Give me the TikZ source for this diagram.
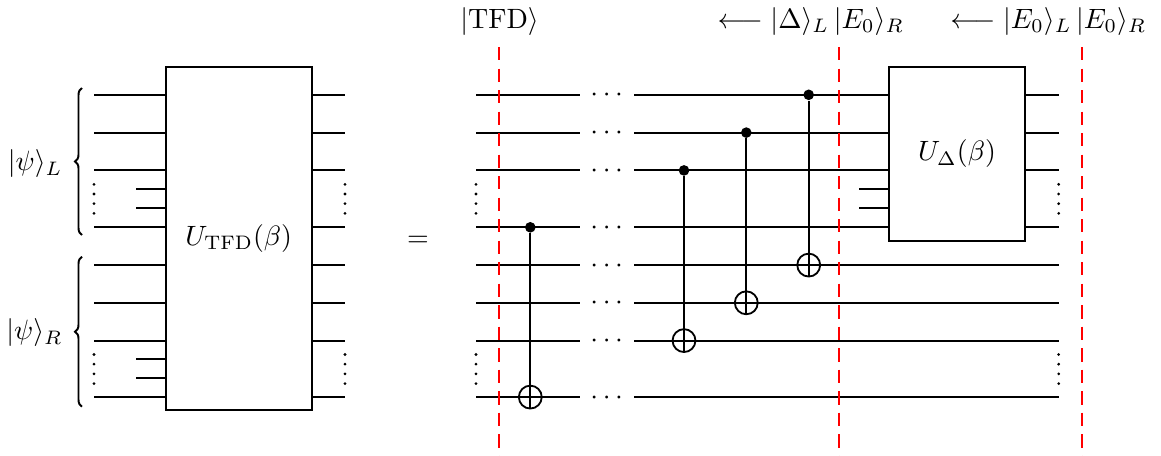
\documentclass[tikz,border=0pt]{standalone}
\usetikzlibrary{decorations.pathreplacing}
\begin{document}
\begin{tikzpicture}[x=0.358pt, y=-0.358pt,
  wire/.style={line width=0.65pt},
  gatebox/.style={draw, line width=0.75pt, inner sep=0pt},
  ctrl/.style={circle, fill, inner sep=0pt, minimum size=3.8pt},
  targ/.style={circle, draw, line width=0.65pt, inner sep=0pt, minimum size=8.2pt},
  slice/.style={red, line width=0.7pt, dash pattern=on 4.8pt off 2.9pt},
  lbl/.style={anchor=base, inner sep=0pt}]
\useasboundingbox (0,0) rectangle (1161,456);

% left hand side
\node[gatebox, minimum width=52.3pt, minimum height=122.7pt] (Utfd) at (238.7,238.7) {$U_{\mathrm{TFD}}(\beta)$};
\draw[wire] (94.3,94.8) -- (Utfd.west |- 0,94.8);
\draw[wire] (94.3,132.6) -- (Utfd.west |- 0,132.6);
\draw[wire] (94.3,170.4) -- (Utfd.west |- 0,170.4);
\draw[wire] (136,189.3) -- (Utfd.west |- 0,189.3);
\draw[wire] (136,208.3) -- (Utfd.west |- 0,208.3);
\draw[wire] (94.3,227.3) -- (Utfd.west |- 0,227.3);
\draw[wire] (94.3,265.1) -- (Utfd.west |- 0,265.1);
\draw[wire] (94.3,302.8) -- (Utfd.west |- 0,302.8);
\draw[wire] (94.3,340.6) -- (Utfd.west |- 0,340.6);
\draw[wire] (136,359.3) -- (Utfd.west |- 0,359.3);
\draw[wire] (136,378.4) -- (Utfd.west |- 0,378.4);
\draw[wire] (94.3,397.1) -- (Utfd.west |- 0,397.1);
\draw[wire] (Utfd.east |- 0,94.8) -- (345,94.8);
\draw[wire] (Utfd.east |- 0,132.6) -- (345,132.6);
\draw[wire] (Utfd.east |- 0,170.4) -- (345,170.4);
\draw[wire] (Utfd.east |- 0,227.3) -- (345,227.3);
\draw[wire] (Utfd.east |- 0,265.1) -- (345,265.1);
\draw[wire] (Utfd.east |- 0,302.8) -- (345,302.8);
\draw[wire] (Utfd.east |- 0,340.6) -- (345,340.6);
\draw[wire] (Utfd.east |- 0,397.1) -- (345,397.1);
\draw[line width=0.7pt, decorate, decoration={brace, amplitude=2.5pt}] (82,235) -- (82,88);
\draw[line width=0.7pt, decorate, decoration={brace, amplitude=2.5pt}] (82,406.7) -- (82,256.7);
\node[anchor=east, inner sep=0pt] (psiL) at (63,164) {$|\psi\rangle_L$};
\node[anchor=east, inner sep=0pt] (psiR) at (63,333) {$|\psi\rangle_R$};
\foreach \x in {94,345} \foreach \y in {184.3,194.0,203.7,213.4,354.5,364.2,373.9,383.6}
  \fill (\x,\y) circle (0.55pt);

\node[lbl] (eq) at (418,246) {$=$};

% right hand side
\node[gatebox, minimum width=48.9pt, minimum height=62.1pt] (Udelta) at (957,154) {$U_{\Delta}(\beta)$};
\draw[wire] (476,94.8) -- (580,94.8);
\draw[wire] (476,132.6) -- (580,132.6);
\draw[wire] (476,170.4) -- (580,170.4);
\draw[wire] (476,227.3) -- (580,227.3);
\draw[wire] (476,265.1) -- (580,265.1);
\draw[wire] (476,302.8) -- (580,302.8);
\draw[wire] (476,340.6) -- (580,340.6);
\draw[wire] (476,397.1) -- (580,397.1);
\node[lbl] (d0) at (606.7,101.8) {$\cdots$};
\node[lbl] (d1) at (606.7,139.6) {$\cdots$};
\node[lbl] (d2) at (606.7,177.4) {$\cdots$};
\node[lbl] (d3) at (606.7,234.3) {$\cdots$};
\node[lbl] (d4) at (606.7,272.1) {$\cdots$};
\node[lbl] (d5) at (606.7,309.8) {$\cdots$};
\node[lbl] (d6) at (606.7,347.6) {$\cdots$};
\node[lbl] (d7) at (606.7,404.1) {$\cdots$};
\draw[wire] (634.3,94.8) -- (Udelta.west |- 0,94.8);
\draw[wire] (634.3,132.6) -- (Udelta.west |- 0,132.6);
\draw[wire] (634.3,170.4) -- (Udelta.west |- 0,170.4);
\draw[wire] (859.3,189.3) -- (Udelta.west |- 0,189.3);
\draw[wire] (859.3,208.3) -- (Udelta.west |- 0,208.3);
\draw[wire] (634.3,227.3) -- (Udelta.west |- 0,227.3);
\draw[wire] (Udelta.east |- 0,94.8) -- (1058.7,94.8);
\draw[wire] (Udelta.east |- 0,132.6) -- (1058.7,132.6);
\draw[wire] (Udelta.east |- 0,170.4) -- (1058.7,170.4);
\draw[wire] (Udelta.east |- 0,227.3) -- (1058.7,227.3);
\draw[wire] (634.3,265.1) -- (1058.7,265.1);
\draw[wire] (634.3,302.8) -- (1058.7,302.8);
\draw[wire] (634.3,340.6) -- (1058.7,340.6);
\draw[wire] (634.3,397.1) -- (1058.7,397.1);
\foreach \x in {476,1058.7} \foreach \y in {184.3,194.0,203.7,213.4,354.5,364.2,373.9,383.6}
  \fill (\x,\y) circle (0.55pt);

% cnots
\node[ctrl] (c1) at (530.3,227.3) {};
\node[targ] (t1) at (530.3,397.1) {};
\draw[wire] (c1) -- (t1.south);
\node[ctrl] (c2) at (684,170.4) {};
\node[targ] (t2) at (684,340.6) {};
\draw[wire] (c2) -- (t2.south);
\node[ctrl] (c3) at (746.3,132.6) {};
\node[targ] (t3) at (746.3,302.8) {};
\draw[wire] (c3) -- (t3.south);
\node[ctrl] (c4) at (808.7,94.8) {};
\node[targ] (t4) at (808.7,265.1) {};
\draw[wire] (c4) -- (t4.south);

% slices
\draw[slice] (499.3,47) -- (499.3,456);
\draw[slice] (839.3,47) -- (839.3,456);
\draw[slice] (1081.7,47) -- (1081.7,456);
\node[lbl] (tfd) at (499.6,28.5) {$|\mathrm{TFD}\rangle$};
\node[lbl] (stD) at (810.8,28.5) {$\longleftarrow |\Delta\rangle_L \, |E_0\rangle_R$};
\node[lbl] (stE) at (1048.3,28.5) {$\longleftarrow |E_0\rangle_L \, |E_0\rangle_R$};
\end{tikzpicture}
\end{document}
